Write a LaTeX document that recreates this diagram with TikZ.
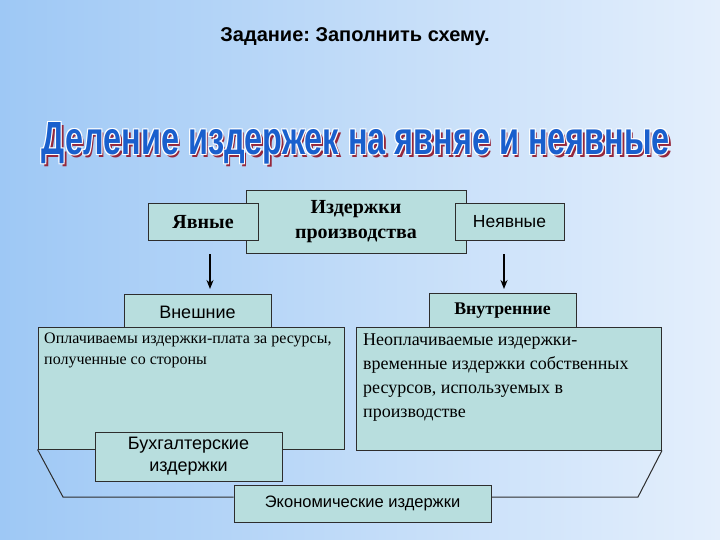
\documentclass[tikz,border=0pt]{standalone}
\usepackage{fontspec}
\setmainfont{Liberation Serif}
\setsansfont{Liberation Sans}
\usetikzlibrary{arrows.meta}
\frenchspacing
\definecolor{bgL}{RGB}{158,200,245}
\definecolor{bgR}{RGB}{228,239,252}
\definecolor{boxfill}{RGB}{184,222,222}
\definecolor{boxline}{RGB}{45,45,45}
\definecolor{titleblue}{RGB}{25,95,205}
\definecolor{shadowred}{RGB}{150,40,60}
\tikzset{
  boxstyle/.style={draw=boxline, fill=boxfill, line width=1pt, inner sep=0pt, align=center},
  sanstext/.style={font=\sffamily\fontsize{18}{22}\selectfont},
  seriftext/.style={font=\rmfamily\bfseries\fontsize{20}{25}\selectfont},
  arrowstyle/.style={line width=1.5pt, -{Stealth[length=9pt,width=7pt]}},
  bracket/.style={draw=boxline, line width=1pt}
}
\newcommand{\bigtitle}{\resizebox{628pt}{32pt}{\sffamily\bfseries Деление издержек на явняе и неявные}}
\begin{document}
\begin{tikzpicture}[x=1pt,y=-1pt]
\useasboundingbox (0,0) rectangle (720,540);
\shade[shading angle=105, left color=bgL, right color=bgR] (0,0) rectangle (720,540);
% titles
\node[font=\sffamily\bfseries\fontsize{20}{24}\selectfont, anchor=base] (task) at (355,42) {Задание: Заполнить схему.};
\node[anchor=base, text=shadowred, inner sep=0pt] (tshadow) at (358.5,158) {\bigtitle};
\foreach \dx/\dy in {-1/-1,1/-1,-1/1,1/1}
  \node[anchor=base, text=white, inner sep=0pt] at (356+\dx,155+\dy) {\bigtitle};
\node[anchor=base, text=titleblue, inner sep=0pt] (title) at (356,155) {\bigtitle};
% top row
\node[boxstyle, seriftext, minimum width=220pt, minimum height=62pt] (prod) at (356,222) {Издержки\\производства};
\node[boxstyle, seriftext, minimum width=110pt, minimum height=36pt] (yav) at (203,222) {Явные};
\node[boxstyle, font=\sffamily\fontsize{17.5}{22}\selectfont, minimum width=109pt, minimum height=36pt] (neyav) at (509.5,222) {Неявные};
% arrows
\coordinate (a1s) at (210,254);
\coordinate (a1e) at (210,289);
\coordinate (a2s) at (504,254);
\coordinate (a2e) at (504,289);
\draw[arrowstyle] (a1s) -- (a1e);
\draw[arrowstyle] (a2s) -- (a2e);
% second row
\node[boxstyle, sanstext, minimum width=147pt, minimum height=37pt] (vnesh) at (197.5,312.5) {Внешние};
\node[boxstyle, font=\rmfamily\bfseries\fontsize{17.8}{22}\selectfont, minimum width=147pt, minimum height=36pt] (vnutr) at (502.5,311) {Внутренние};
% big boxes
\node[boxstyle, minimum width=306pt, minimum height=122pt] (leftbox) at (191,388) {};
\node[boxstyle, minimum width=305pt, minimum height=123pt] (rightbox) at (509,388.5) {};
\node[anchor=north west, align=left, inner sep=0pt, font=\rmfamily\fontsize{16}{21}\selectfont] (lefttext) at (44,333) {Оплачиваемы издержки-плата за ресурсы,\\полученные со стороны};
\node[anchor=north west, align=left, inner sep=0pt, font=\rmfamily\fontsize{18}{23.8}\selectfont] (righttext) at (363,334) {Неоплачиваемые издержки-\\временные издержки собственных\\ресурсов, используемых в\\производстве};
% brackets
\coordinate (lc) at (63,497);
\coordinate (rc) at (638,497);
\node[boxstyle, font=\sffamily\fontsize{16.5}{20}\selectfont, minimum width=257pt, minimum height=37pt] (econ) at (362.5,503.5) {Экономические издержки};
\draw[bracket] (leftbox.south west) -- (lc) -- (lc -| econ.west);
\draw[bracket] (rightbox.south east) -- (rc) -- (rc -| econ.east);
\node[boxstyle, sanstext, minimum width=187pt, minimum height=49pt] (buh) at (188.5,456.5) {Бухгалтерские\\издержки};
\end{tikzpicture}
\end{document}
